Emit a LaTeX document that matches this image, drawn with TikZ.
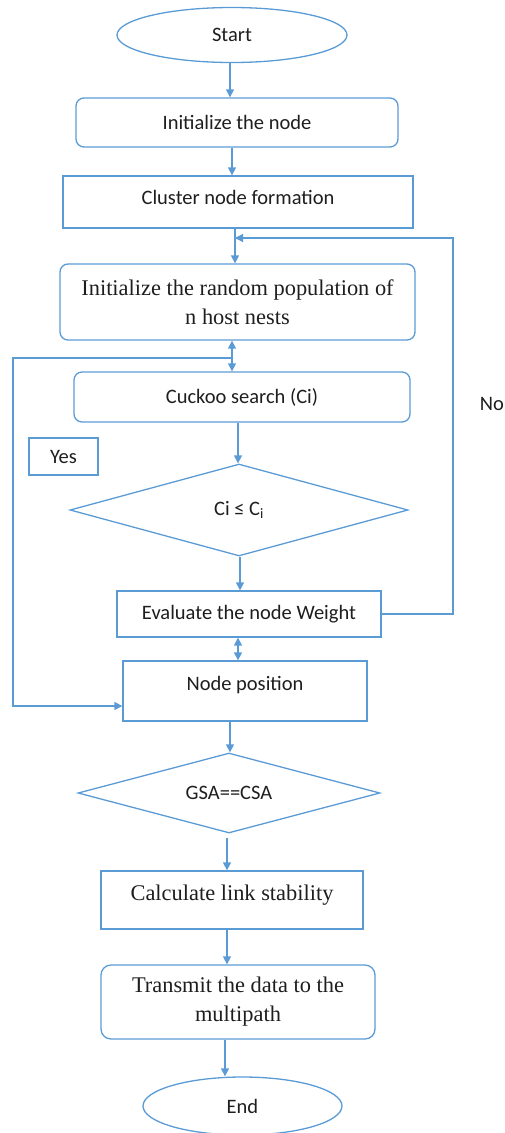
\documentclass[tikz,border=0pt]{standalone}
\usepackage{fontspec}
\setmainfont{Carlito}
\newfontfamily\tnr{Liberation Serif}
\usetikzlibrary{shapes.geometric,arrows.meta}
\definecolor{lb}{RGB}{91,155,213}
\definecolor{tx}{RGB}{30,30,30}
\tikzset{
  base/.style={draw=lb,line width=1.3pt,text=tx,inner sep=0pt,align=center,font=\fontsize{20.5}{25}\selectfont},
  rbox/.style={base,rectangle,rounded corners=8pt},
  sbox/.style={base,rectangle},
  oval/.style={base,ellipse},
  dia/.style={base,diamond},
  serif/.style={font=\tnr\fontsize{22.4}{29}\selectfont},
  line/.style={draw=lb,line width=1.3pt},
  arr/.style={line,-{Triangle[length=8pt,width=8pt]}},
  darr/.style={line,{Triangle[length=8pt,width=8pt]}-{Triangle[length=8pt,width=8pt]}}
}
\begin{document}
\begin{tikzpicture}[x=1pt,y=-1pt]
\useasboundingbox (0,0) rectangle (505,1133);
\node[oval,minimum width=230pt,minimum height=55pt] (start) at (232,35) {Start};
\node[rbox,minimum width=322pt,minimum height=49pt] (init) at (237,122.5) {Initialize the node};
\node[sbox,minimum width=350pt,minimum height=52pt] (cluster) at (238,202) {Cluster node formation\\[-15pt]};
\node[rbox,serif,minimum width=355pt,minimum height=76pt] (pop) at (237.5,302) {Initialize the random population of\\n host nests};
\node[rbox,minimum width=336pt,minimum height=50pt] (cuckoo) at (242,397) {Cuckoo search (Ci)};
\node[sbox,minimum width=69pt,minimum height=37pt] (yes) at (63.5,456.5) {Yes};
\node[dia,minimum width=338pt,minimum height=92pt,aspect=3.67] (d1) at (239,510) {Ci ≤ C\textsubscript{i}};
\node[sbox,minimum width=264pt,minimum height=46pt] (eval) at (249,614) {Evaluate the node Weight};
\node[sbox,minimum width=244pt,minimum height=60pt] (pos) at (245,691) {Node position\\[-9pt]};
\node[dia,minimum width=302pt,minimum height=80pt,aspect=3.78] (d2) at (229,793) {GSA==CSA};
\node[sbox,serif,minimum width=262pt,minimum height=58pt] (calc) at (232,900) {Calculate link stability\\[-15pt]};
\node[rbox,serif,minimum width=274pt,minimum height=74pt,rounded corners=10pt] (trans) at (238,1002) {Transmit the data to the\\multipath};
\node[oval,minimum width=199pt,minimum height=58pt] (end) at (242.5,1106) {End};
\node[text=tx,anchor=east,font=\fontsize{20.5}{25}\selectfont,inner sep=0pt] (no) at (504,404) {No};
% connectors
\draw[arr] (start.south -| 230,0) -- (init.north -| 230,0);
\draw[arr] (init.south -| 232,0) -- (cluster.north -| 232,0);
\draw[arr] (cluster.south -| 235,0) -- (pop.north -| 235,0);
\coordinate (nR) at (453,238);
\coordinate (nJ) at (235,238);
\draw[arr] (eval.east) -| (nR) -- (nJ);
\draw[darr] (pop.south -| 232,0) -- (cuckoo.north -| 232,0);
\coordinate (yJ) at (232,358);
\coordinate (yT) at (13,358);
\coordinate (yB) at (13,706);
\draw[arr] (yJ) -- (yT) -- (yB) -- (pos.west |- yB);
\draw[arr] (cuckoo.south -| 238,0) -- (d1.north -| 238,0);
\draw[arr] (d1.south -| 240,0) -- (eval.north -| 240,0);
\draw[darr] (eval.south -| 238,0) -- (pos.north -| 238,0);
\draw[arr] (pos.south -| 230,0) -- (d2.north -| 230,0);
\coordinate (d2b) at (227,838);
\draw[arr] (d2b) -- (calc.north -| d2b);
\draw[arr] (calc.south -| 227,0) -- (trans.north -| 227,0);
\draw[arr] (trans.south -| 225,0) -- (end.north -| 225,0);
\end{tikzpicture}
\end{document}
